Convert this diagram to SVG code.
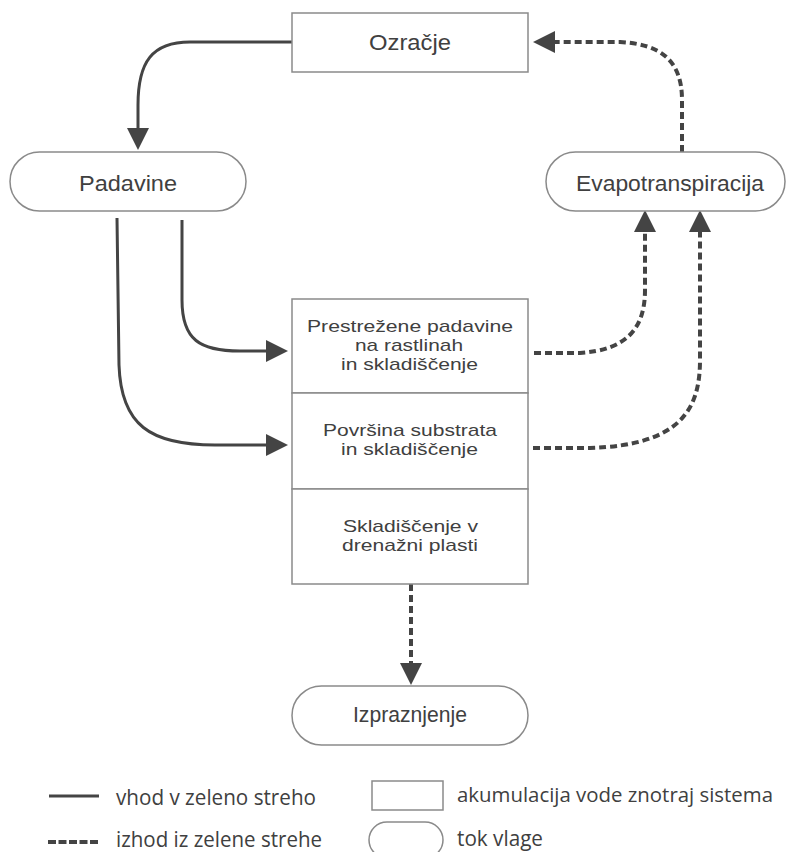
<svg xmlns="http://www.w3.org/2000/svg" width="787" height="852" viewBox="0 0 787 852">
<defs>
<style>
.box{fill:#fff;stroke:#8a8a8a;stroke-width:1.5}
.t{font-family:"Liberation Sans",Arial,sans-serif;fill:#404040;text-anchor:middle}
.big{font-size:22.5px}
.mid{font-size:17px}
.leg{font-family:"Open Sans","Noto Sans",sans-serif;font-size:21px;fill:#404040}
.solid{fill:none;stroke:#444;stroke-width:3}
.dash{fill:none;stroke:#444;stroke-width:4;stroke-dasharray:7 4}
</style>
<marker id="ah" viewBox="0 0 22 22" refX="0" refY="11" markerWidth="22" markerHeight="22" markerUnits="userSpaceOnUse" orient="auto">
<path d="M0,0 L22,11 L0,22 z" fill="#444" stroke="none"/>
</marker>
</defs>
<rect width="787" height="852" fill="#fff"/>

<g id="connectors">
<path class="solid" d="M292,42 L190,42 C152,42 138,62 138,105 L138,128" marker-end="url(#ah)"/>
<path class="solid" d="M182,220 L182,300 C182,340 200,351 240,351 L266,351" marker-end="url(#ah)"/>
<path class="solid" d="M117,218 L119,365 C121,425 150,445 215,445 L266,445" marker-end="url(#ah)"/>
<path class="dash" d="M534,353 L580,353 C625,350 645,330 645,290 L645,232" marker-end="url(#ah)"/>
<path class="dash" d="M533,448 L590,448 C680,445 700,410 700,360 L700,232" marker-end="url(#ah)"/>
<path class="dash" d="M682,152 L682,100 C682,60 660,44 620,42 L555,42" marker-end="url(#ah)"/>
<path class="dash" d="M411,584 L411,663" marker-end="url(#ah)"/>
</g>

<g id="ozracje">
<rect class="box" x="292" y="13" width="236" height="59"/>
<text class="t big" x="410" y="50" textLength="82" lengthAdjust="spacingAndGlyphs">Ozračje</text>
</g>
<g id="padavine">
<rect class="box" x="10" y="152" width="236" height="59" rx="29.5"/>
<text class="t big" x="128" y="191" textLength="98" lengthAdjust="spacingAndGlyphs">Padavine</text>
</g>
<g id="evapotranspiracija">
<rect class="box" x="546" y="152" width="239" height="59" rx="29.5"/>
<text class="t big" x="670" y="191" textLength="188" lengthAdjust="spacingAndGlyphs">Evapotranspiracija</text>
</g>
<g id="prestrezene">
<rect class="box" x="292" y="299" width="236" height="94"/>
<text class="t mid" x="410" y="332" textLength="206" lengthAdjust="spacingAndGlyphs">Prestrežene padavine</text>
<text class="t mid" x="409" y="351" textLength="108" lengthAdjust="spacingAndGlyphs">na rastlinah</text>
<text class="t mid" x="409.5" y="370" textLength="137" lengthAdjust="spacingAndGlyphs">in skladiščenje</text>
</g>
<g id="povrsina">
<rect class="box" x="292" y="393" width="236" height="96"/>
<text class="t mid" x="410" y="436" textLength="174" lengthAdjust="spacingAndGlyphs">Površina substrata</text>
<text class="t mid" x="409.5" y="455" textLength="137" lengthAdjust="spacingAndGlyphs">in skladiščenje</text>
</g>
<g id="drenazna">
<rect class="box" x="292" y="489" width="236" height="95"/>
<text class="t mid" x="410.5" y="532" textLength="135" lengthAdjust="spacingAndGlyphs">Skladiščenje v</text>
<text class="t mid" x="410" y="551" textLength="136" lengthAdjust="spacingAndGlyphs">drenažni plasti</text>
</g>
<g id="izpraznjenje">
<rect class="box" x="292" y="686" width="236" height="59" rx="29.5"/>
<text class="t big" x="410" y="722" textLength="114" lengthAdjust="spacingAndGlyphs">Izpraznjenje</text>
</g>

<g id="legend">
<line class="solid" x1="49" y1="796" x2="99" y2="796"/>
<text class="leg" x="116" y="805" textLength="200" lengthAdjust="spacingAndGlyphs">vhod v zeleno streho</text>
<line class="dash" x1="48" y1="842" x2="98" y2="842" style="stroke-dasharray:8 2.5"/>
<text class="leg" x="116" y="847" textLength="206" lengthAdjust="spacingAndGlyphs">izhod iz zelene strehe</text>
<rect class="box" x="372" y="781" width="71" height="29"/>
<text class="leg" x="457" y="802" style="font-size:20px" textLength="316" lengthAdjust="spacingAndGlyphs">akumulacija vode znotraj sistema</text>
<rect class="box" x="369" y="822" width="74" height="36" rx="18"/>
<text class="leg" x="457" y="846" textLength="86" lengthAdjust="spacingAndGlyphs">tok vlage</text>
</g>
</svg>
